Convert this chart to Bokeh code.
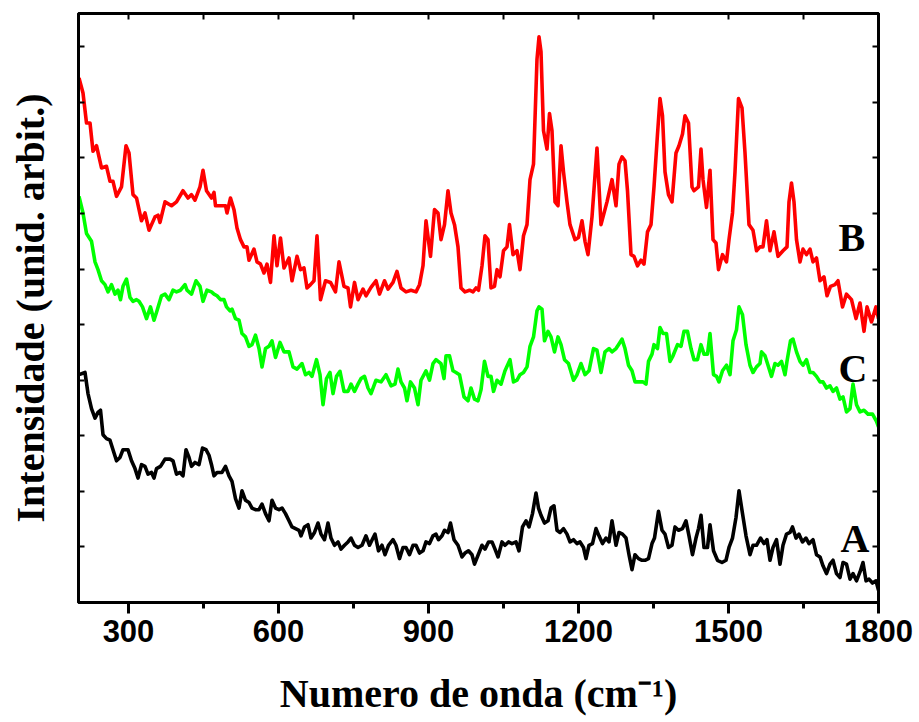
from bokeh.plotting import figure
from bokeh.models import Range1d, LinearAxis, FixedTicker, Label, CustomJSTickFormatter
from bokeh.embed import file_html
from bokeh.resources import INLINE

# ---- data (arbitrary intensity units) ----
wn_B = [201,209,216,223,229,236,246,256,263,269,276,286,295,301,309,316,326,333,341,353,359,363,373,386,396,409,419,426,433,443,449,456,466,
        471,474,484,494,497,504,511,517,524,531,537,541,551,557,564,571,577,584,591,597,604,611,621,627,637,644,651,657,664,671,677,684,694,704,714,721,731,
        739,744,752,759,769,775,785,795,802,812,819,829,837,845,855,865,875,882,889,895,904,912,919,925,932,939,945,952,959,965,973,982,989,995,
        1000,1007,1013,1019,1025,1032,1037,1043,1050,1057,1062,1069,1077,1083,1090,1097,1103,1110,1117,1121,1125,1130,1137,1142,1147,1153,1159,1165,1170,1177,1183,1193,1200,1207,1213,1219,1227,1237,1245,1257,1267,
        1275,1281,1287,1293,1298,1305,1311,1318,1325,1331,1338,1345,1351,1358,1363,1368,1373,1380,1387,1395,1401,1408,1413,1420,1427,1431,1440,1445,1449,1456,1463,1469,1475,1480,1488,1496,1501,1508,1513,1520,1527,1533,
        1541,1549,1556,1563,1569,1576,1583,1591,1599,1609,1617,1621,1626,1631,1636,1643,1649,1656,1663,1669,1676,1683,1691,1697,1704,1713,1719,1728,1736,1746,1755,1763,1771,1777,1786,1795,1800]
int_B = [9.44,9.17,8.63,8.63,8.12,8.22,7.82,7.85,7.58,7.58,7.31,7.48,8.22,8.09,7.34,7.28,6.87,7.01,6.70,6.94,6.97,6.84,7.21,7.14,7.21,7.41,7.28,7.34,7.24,7.48,7.78,7.41,7.28,
         7.38,7.14,7.14,7.14,7.01,7.28,7.07,6.74,6.53,6.40,6.40,6.16,6.36,6.13,6.09,5.93,6.09,5.76,6.60,6.06,6.56,6.02,6.20,5.79,6.23,5.99,6.02,5.66,5.72,5.79,6.60,5.45,5.79,5.76,5.59,6.13,5.69,
         5.66,5.32,5.76,5.45,5.64,5.52,5.67,5.79,5.55,5.79,5.64,5.76,5.96,5.66,5.59,5.62,5.59,5.72,6.06,6.87,6.23,7.07,7.01,6.53,6.80,7.41,7.01,6.80,6.40,5.66,5.59,5.62,5.59,5.66,
         5.62,6.06,6.60,6.53,5.66,5.69,5.99,5.86,6.33,6.40,6.80,6.26,6.33,5.99,6.60,6.80,7.61,7.89,9.78,10.18,9.91,8.49,8.16,8.80,8.49,7.21,7.14,8.22,7.75,7.21,6.80,6.53,6.57,6.87,6.50,6.26,6.94,8.18,6.80,7.21,7.61,
         7.14,7.89,8.02,7.95,7.41,6.26,6.23,6.06,6.16,6.09,6.67,6.80,7.48,8.43,9.07,8.76,7.75,7.34,7.21,8.09,8.22,8.43,8.76,8.63,7.48,7.41,7.48,8.16,7.61,7.11,7.78,6.53,6.47,5.99,6.26,6.13,6.53,7.01,7.75,9.07,8.90,8.09,
         6.80,6.70,6.33,6.40,6.40,6.87,6.33,6.67,6.23,6.33,6.40,7.21,7.55,7.21,6.53,6.13,6.36,6.26,6.36,6.13,6.20,5.79,5.86,5.52,5.69,5.72,5.79,5.32,5.55,5.45,5.11,5.39,4.88,5.32,5.05,5.32,5.11]

wn_C = [201,209,216,226,233,239,246,253,259,266,273,279,284,289,296,303,309,316,321,328,336,344,351,357,366,373,381,389,396,404,413,417,426,435,443,449,457,466,
        471,477,484,491,496,503,507,514,521,527,534,541,547,554,561,567,574,581,587,594,603,611,621,629,637,647,654,661,667,676,683,689,696,703,709,716,723,731,
        739,745,752,759,765,772,779,785,795,805,815,825,833,839,845,852,857,864,872,879,885,895,902,909,915,925,931,935,942,949,955,962,971,979,985,992,999,
        1005,1012,1019,1025,1030,1037,1045,1053,1063,1070,1077,1083,1090,1097,1103,1110,1117,1121,1127,1132,1139,1145,1152,1159,1165,1172,1180,1190,1197,1205,1213,1221,1230,1237,1245,1253,1261,1267,
        1275,1280,1287,1293,1300,1307,1313,1321,1329,1335,1340,1347,1351,1358,1363,1369,1376,1383,1389,1398,1405,1411,1418,1425,1431,1438,1445,1451,1458,1463,1470,1476,1481,1488,1496,1503,1509,1516,1521,1528,1535,
        1543,1549,1556,1563,1566,1573,1579,1586,1593,1599,1606,1613,1617,1624,1629,1636,1643,1649,1656,1663,1669,1676,1683,1689,1696,1703,1709,1716,1723,1729,1736,1743,1749,1756,1763,1771,1779,1788,1796,1800]
int_C = [7.31,7.01,6.64,6.50,6.13,5.99,5.79,5.72,5.59,5.72,5.55,5.62,5.45,5.69,5.82,5.49,5.42,5.45,5.42,5.32,5.11,5.32,5.08,5.25,5.52,5.55,5.45,5.62,5.59,5.62,5.72,5.62,5.55,5.79,5.69,5.42,5.62,5.59,
         5.55,5.52,5.45,5.45,5.32,5.25,5.28,5.11,5.08,4.84,4.78,4.61,4.64,4.81,4.57,4.24,4.57,4.61,4.71,4.41,4.68,4.51,4.51,4.24,4.20,4.30,4.10,4.14,4.07,4.37,4.10,3.56,4.03,4.14,3.76,4.07,4.16,3.80,
         3.80,3.93,3.80,3.93,4.03,4.07,3.86,3.76,4.00,3.97,4.10,3.90,3.93,4.20,3.97,3.86,3.63,3.97,3.86,3.56,4.00,4.17,4.00,4.30,4.37,4.30,4.03,4.44,4.44,4.17,4.14,4.10,3.70,3.63,3.86,3.66,3.63,
         3.83,4.34,4.07,4.07,3.80,4.00,3.93,4.17,4.37,3.97,4.00,4.10,4.14,4.24,4.61,4.78,5.25,5.32,5.28,4.71,4.88,4.78,4.51,4.78,4.64,4.37,4.30,4.00,4.10,4.30,4.10,4.17,4.57,4.54,4.14,4.51,4.57,4.51,
         4.57,4.64,4.74,4.57,4.27,4.17,3.97,3.97,3.97,3.93,4.34,4.47,4.64,4.57,4.95,4.84,4.84,4.34,4.44,4.64,4.61,4.88,4.88,4.57,4.37,4.37,4.64,4.47,4.47,4.84,4.10,4.07,3.97,4.17,4.27,4.10,4.71,4.91,5.32,5.18,4.64,
         4.27,4.14,4.24,4.30,4.51,4.44,4.27,4.07,4.30,4.27,4.34,4.10,4.34,4.71,4.74,4.51,4.34,4.27,4.37,4.14,4.14,4.07,3.97,3.97,3.86,3.90,3.80,3.86,3.66,3.70,3.43,3.49,3.93,3.56,3.43,3.46,3.39,3.39,3.26,3.16]

wn_A = [201,213,219,226,233,239,244,249,256,263,269,276,283,289,299,306,313,319,326,333,339,346,351,356,364,373,383,389,396,403,409,415,421,426,433,441,448,455,461,466,
        471,477,487,494,501,507,514,521,527,534,541,547,554,561,567,574,581,587,594,601,607,614,621,627,634,641,645,652,659,665,672,679,685,692,699,705,712,719,725,732,
        739,745,752,759,767,775,782,789,793,800,807,813,820,829,835,842,849,855,862,869,875,882,889,895,902,909,915,920,927,932,939,944,951,959,967,973,980,987,992,
        1007,1013,1020,1027,1033,1039,1047,1053,1060,1067,1075,1081,1088,1095,1101,1108,1115,1120,1125,1132,1139,1145,1151,1157,1163,1170,1177,1183,1190,1197,1203,1210,1215,1221,1228,1235,1241,1248,1255,1261,1267,
        1275,1281,1288,1295,1301,1307,1313,1320,1327,1333,1340,1347,1352,1360,1367,1373,1380,1387,1393,1400,1408,1415,1421,1428,1435,1440,1445,1451,1458,1463,1470,1478,1487,1495,1501,1508,1515,1521,1528,1535,
        1543,1549,1556,1564,1571,1577,1583,1589,1596,1603,1609,1616,1623,1628,1635,1641,1648,1655,1661,1669,1676,1683,1689,1696,1703,1709,1716,1723,1729,1736,1743,1749,1756,1763,1769,1775,1781,1788,1795,1800]
int_A = [4.10,4.14,3.76,3.49,3.32,3.42,3.46,3.02,2.95,2.92,2.75,2.55,2.61,2.75,2.75,2.55,2.41,2.24,2.48,2.45,2.31,2.34,2.24,2.41,2.45,2.58,2.58,2.55,2.31,2.34,2.28,2.75,2.61,2.45,2.52,2.48,2.78,2.75,2.65,2.48,
         2.28,2.34,2.34,2.45,2.28,2.18,1.87,1.70,2.01,1.84,1.80,1.70,1.67,1.67,1.77,1.60,1.47,1.84,1.70,1.67,1.70,1.60,1.47,1.36,1.33,1.30,1.20,1.36,1.40,1.16,1.26,1.43,1.23,1.13,1.43,1.16,1.03,1.09,0.96,1.03,
         1.09,1.16,1.03,0.99,1.03,1.20,1.03,1.16,1.23,0.93,1.03,0.86,1.03,1.13,1.03,0.79,0.99,0.99,0.86,1.03,1.03,0.89,0.93,1.09,1.06,1.20,1.23,1.13,1.20,1.30,1.26,1.43,1.13,1.03,0.82,0.89,0.93,0.86,0.69,
         1.03,0.96,1.09,1.09,0.96,0.82,1.09,1.03,1.09,1.06,1.09,0.93,1.36,1.47,1.36,1.60,1.97,1.70,1.57,1.43,1.47,1.70,1.74,1.30,1.26,1.33,1.23,1.09,1.13,1.06,1.09,0.99,0.79,1.03,1.06,1.33,1.20,1.06,1.16,1.09,1.47,
         1.03,1.26,1.23,1.16,0.86,0.59,0.86,0.79,0.76,0.76,0.79,1.06,1.16,1.64,1.30,1.23,0.99,1.03,1.36,1.30,1.33,1.47,1.20,0.86,1.16,1.33,1.57,0.99,0.99,1.40,0.93,0.76,0.72,0.76,0.99,1.16,1.53,2.01,1.60,1.20,
         0.86,1.03,1.03,1.16,1.06,1.13,0.76,0.99,1.13,0.69,1.03,1.23,1.26,1.36,1.16,1.23,1.09,1.16,1.06,1.13,0.86,0.82,0.66,0.52,0.69,0.76,0.52,0.45,0.72,0.69,0.42,0.52,0.39,0.55,0.72,0.39,0.42,0.35,0.39,0.22]

x_ticks = [300, 600, 900, 1200, 1500, 1800]
x_minor = [450, 750, 1050, 1350, 1650]
y_ticks = [1, 2, 3, 4, 5, 6, 7, 8, 9, 10]
series_labels = ["B", "C", "A"]

p = figure(width=919, height=722, x_range=Range1d(200, 1800), y_range=Range1d(0, 10.6),
           output_backend="svg", toolbar_location=None,
           min_border_left=78, min_border_right=41, min_border_top=13, min_border_bottom=120)
p.xgrid.visible = False
p.ygrid.visible = False
p.background_fill_color = "white"
p.border_fill_color = "white"
p.outline_line_color = "black"
p.outline_line_width = 3

for xs, ys, col in [(wn_B, int_B, "#ff0000"), (wn_C, int_C, "#00ff00"), (wn_A, int_A, "black")]:
    p.line(xs, ys, line_color=col, line_width=3.6, line_join="round")

blank = CustomJSTickFormatter(code="return '';")

ax = p.xaxis[0]
ax.ticker = FixedTicker(ticks=x_ticks, minor_ticks=x_minor)
ax.axis_line_width = 3
ax.major_tick_line_width = 3
ax.minor_tick_line_width = 3
ax.major_tick_out = 11
ax.major_tick_in = 0
ax.minor_tick_out = 6
ax.minor_tick_in = 0
ax.major_label_text_font = "Liberation Sans"
ax.major_label_text_font_style = "bold"
ax.major_label_text_font_size = "31px"
ax.major_label_text_color = "black"
ax.major_label_standoff = 6
ax.axis_label = "Numero de onda (cm\u207b\u00b9)"
ax.axis_label_text_font = "Liberation Serif"
ax.axis_label_text_font_style = "bold"
ax.axis_label_text_font_size = "40px"
ax.axis_label_text_color = "black"
ax.axis_label_standoff = 26

ay = p.yaxis[0]
ay.ticker = FixedTicker(ticks=y_ticks, minor_ticks=[])
ay.formatter = blank
ay.axis_line_width = 3
ay.major_tick_line_width = 2
ay.major_tick_in = 6
ay.major_tick_out = 0
ay.minor_tick_line_color = None
ay.major_label_standoff = 0
ay.major_label_text_font_size = "1px"
ay.axis_label = "Intensidade (unid. arbit.)"
ay.axis_label_text_font = "Liberation Serif"
ay.axis_label_text_font_style = "bold"
ay.axis_label_text_font_size = "40px"
ay.axis_label_text_color = "black"
ay.axis_label_standoff = 26

top = LinearAxis(ticker=FixedTicker(ticks=x_ticks, minor_ticks=x_minor), formatter=blank)
top.axis_line_width = 3
top.major_tick_in = 6
top.major_tick_out = 0
top.minor_tick_in = 6
top.minor_tick_out = 0
top.major_tick_line_width = 2
top.minor_tick_line_width = 2
top.major_label_standoff = 0
top.major_label_text_font_size = "1px"
p.add_layout(top, "above")

right = LinearAxis(ticker=FixedTicker(ticks=y_ticks, minor_ticks=[]), formatter=blank)
right.axis_line_width = 3
right.major_tick_in = 6
right.major_tick_out = 0
right.major_tick_line_width = 2
right.minor_tick_line_color = None
right.major_label_standoff = 0
right.major_label_text_font_size = "1px"
p.add_layout(right, "right")

label_pos = [(1720, 6.57), (1720, 4.21), (1724, 1.15)]
for txt, (lx, ly) in zip(series_labels, label_pos):
    p.add_layout(Label(x=lx, y=ly, text=txt, text_font="Liberation Serif", text_font_style="bold",
                       text_font_size="40px", text_color="black", text_baseline="alphabetic"))

open("out.html", "w").write(file_html(p, INLINE))
